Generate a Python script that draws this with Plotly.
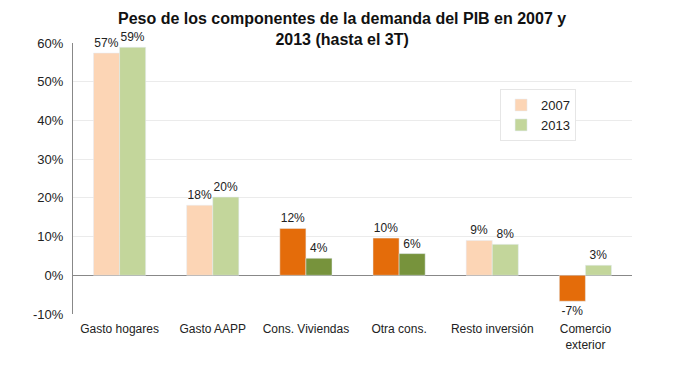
import plotly.graph_objects as go

categories = ["Gasto hogares", "Gasto AAPP", "Cons. Viviendas", "Otra cons.", "Resto inversión", "Comercio<br>exterior"]
v2007 = [57.4, 18.1, 12.1, 9.6, 9.0, -6.7]
v2013 = [58.9, 20.2, 4.4, 5.6, 8.0, 2.6]
labels2007 = ["57%", "18%", "12%", "10%", "9%", "-7%"]
labels2013 = ["59%", "20%", "4%", "6%", "8%", "3%"]
title_text = "<b>Peso de los componentes de la demanda del PIB en 2007 y<br>2013 (hasta el 3T)</b>"

peach = "#FCD5B5"
lgreen = "#C3D69B"
orange = "#E46C0A"
olive = "#77933C"
colors2007 = [peach, peach, orange, orange, peach, orange]
colors2013 = [lgreen, lgreen, olive, olive, lgreen, lgreen]

font = "Liberation Sans, Arial, sans-serif"

fig = go.Figure()
fig.add_trace(go.Bar(x=categories, y=v2007, name="2007", marker_color=colors2007,
                     text=labels2007, textposition="outside", cliponaxis=False,
                     constraintext="none", textfont=dict(size=12, color="#222")))
fig.add_trace(go.Bar(x=categories, y=v2013, name="2013", marker_color=colors2013,
                     text=labels2013, textposition="outside", cliponaxis=False,
                     constraintext="none", textfont=dict(size=12, color="#222")))

H, T, B = 374, 35, 68
plot_h = H - T - B

# page body has an 8px default margin: size figure to fit the window
fig.update_layout(
    width=676, height=H,
    margin=dict(l=65, r=52, t=T, b=B),
    paper_bgcolor="white", plot_bgcolor="white",
    barmode="group", bargap=0.44, bargroupgap=0,
    font=dict(family=font, size=12, color="#222"),
    legend=dict(x=0.764, y=0.83, xanchor="left", yanchor="top",
                bordercolor="#E6E6E6", borderwidth=1, font=dict(size=13),
                tracegroupgap=4, itemwidth=30),
    showlegend=True,
    annotations=[dict(text=title_text, xref="paper", yref="paper", x=0.481, y=1 + T / plot_h,
                      xanchor="center", yanchor="top", showarrow=False,
                      font=dict(size=16, family=font, color="#111"))],
)
fig.update_yaxes(range=[-10, 60], tickvals=[-10, 0, 10, 20, 30, 40, 50, 60],
                 ticktext=["-10%", "0%", "10%", "20%", "30%", "40%", "50%", "60%"],
                 showgrid=True, gridcolor="#EBEBEB", zeroline=True, zerolinecolor="#888",
                 zerolinewidth=1, showline=True, linecolor="#888", linewidth=1,
                 tickfont=dict(size=13), ticks="", ticklen=0, automargin=False,
                 ticklabelstandoff=6)
fig.update_xaxes(showline=False, ticks="", tickfont=dict(size=12), automargin=False,
                 ticklabelstandoff=6)

fig.write_html("out.html")
